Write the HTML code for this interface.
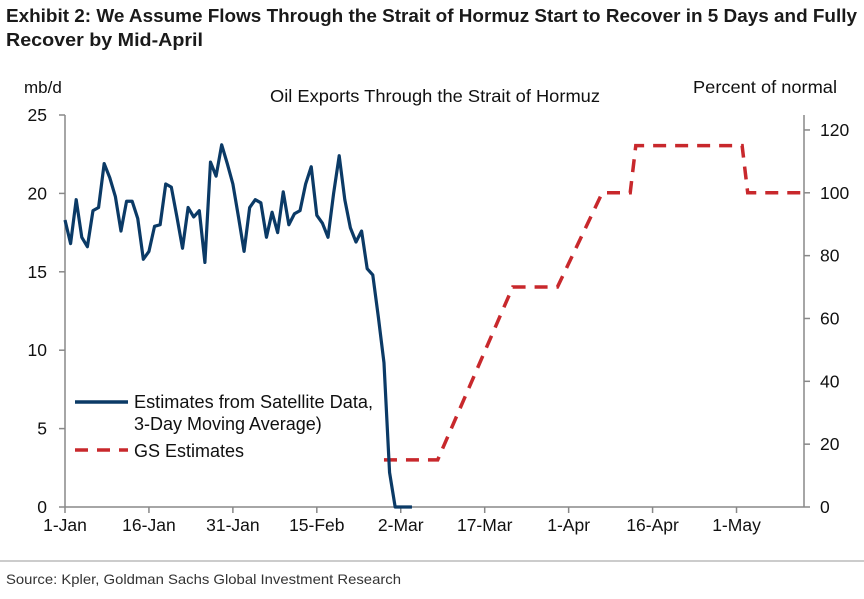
<!DOCTYPE html>
<html><head><meta charset="utf-8"><style>
body{margin:0;background:#fff;width:864px;height:594px;overflow:hidden;font-family:"Liberation Sans",sans-serif}
svg text{font-family:"Liberation Sans",sans-serif}
</style></head><body>
<svg width="864" height="594">
<text x="6" y="22" font-size="18" font-weight="bold" fill="#1a1a1a" textLength="851" lengthAdjust="spacingAndGlyphs">Exhibit 2: We Assume Flows Through the Strait of Hormuz Start to Recover in 5 Days and Fully</text>
<text x="6" y="46" font-size="18" font-weight="bold" fill="#1a1a1a" textLength="197" lengthAdjust="spacingAndGlyphs">Recover by Mid-April</text>
<text x="24" y="93" font-size="17" fill="#111">mb/d</text>
<text x="270" y="102" font-size="17.5" fill="#111" textLength="330" lengthAdjust="spacingAndGlyphs">Oil Exports Through the Strait of Hormuz</text>
<text x="693" y="93" font-size="17.5" fill="#111" textLength="144" lengthAdjust="spacingAndGlyphs">Percent of normal</text>
<g id="axes"></g>
<g id="series"></g>
<g>
<line x1="75" y1="402" x2="128" y2="402" stroke="#0b3a66" stroke-width="3.5"/>
<text x="134" y="408" font-size="18" fill="#111" textLength="239" lengthAdjust="spacingAndGlyphs">Estimates from Satellite Data,</text>
<text x="134" y="430" font-size="18" fill="#111">3-Day Moving Average)</text>
<line x1="75" y1="450" x2="128" y2="450" stroke="#c8282c" stroke-width="3.5" stroke-dasharray="13,9"/>
<text x="134" y="457" font-size="18" fill="#111">GS Estimates</text>
</g>
<line x1="0" y1="561" x2="864" y2="561" stroke="#999" stroke-width="1"/>
<text x="6" y="584" font-size="14" fill="#333" textLength="395" lengthAdjust="spacingAndGlyphs">Source: Kpler, Goldman Sachs Global Investment Research</text>
</svg>
<script>
const satValues=[18.3,16.8,19.6,17.2,16.6,18.9,19.1,21.9,21.0,19.8,17.6,19.5,19.5,18.4,15.8,16.3,17.9,18.0,20.6,20.4,18.5,16.5,19.1,18.5,18.9,15.6,22.0,21.1,23.1,21.9,20.6,18.5,16.3,19.1,19.6,19.4,17.2,18.8,17.5,20.1,18.0,18.7,18.9,20.6,21.7,18.6,18.1,17.2,20.0,22.4,19.6,17.8,16.9,17.6,15.2,14.8,12.1,9.2,2.2,0,0,0,0];
const gsDays=[57,66.6,80,88,96,101,102,121,122,132];
const gsValues=[15,15,70,70,100,100,115,115,100,100];
const xTickLabels=["1-Jan","16-Jan","31-Jan","15-Feb","2-Mar","17-Mar","1-Apr","16-Apr","1-May"];
const xTickDays=[0,15,30,45,60,75,90,105,120];
const leftTicks=[0,5,10,15,20,25];
const rightTicks=[0,20,40,60,80,100,120];
const NS="http://www.w3.org/2000/svg";
const X0=65,PXD=5.596,XR=804;
const x=d=>X0+d*PXD;
const yL=v=>507-v*15.68;
const yR=v=>507-v*3.142;
function el(t,a,p){const e=document.createElementNS(NS,t);for(const k in a)e.setAttribute(k,a[k]);p.appendChild(e);return e;}
const ax=document.getElementById('axes');
const xa=el('line',{x1:X0,y1:507,x2:XR,y2:507,stroke:'#888','stroke-width':1.5},ax);


const la=el('line',{x1:X0,y1:115,x2:X0,y2:507,stroke:'#888','stroke-width':1.5},ax);


const ra=el('line',{x1:XR,y1:115,x2:XR,y2:507,stroke:'#888','stroke-width':1.5},ax);


xTickDays.forEach((d,i)=>{
 el('line',{x1:x(d),y1:507,x2:x(d),y2:513,stroke:'#888','stroke-width':1.5},ax);
 const t=el('text',{x:x(d),y:531,'font-size':17.5,'text-anchor':'middle',fill:'#111'},ax);
 t.textContent=xTickLabels[i];
 
 
});
leftTicks.forEach(v=>{
 el('line',{x1:X0-6,y1:yL(v),x2:X0,y2:yL(v),stroke:'#888','stroke-width':1.5},ax);
 const t=el('text',{x:47,y:yL(v)+6,'font-size':17.5,'text-anchor':'end',fill:'#111'},ax);
 t.textContent=v;
 
 
});
rightTicks.forEach(v=>{
 el('line',{x1:XR,y1:yR(v),x2:XR+6,y2:yR(v),stroke:'#888','stroke-width':1.5},ax);
 const t=el('text',{x:820,y:yR(v)+6,'font-size':17.5,fill:'#111'},ax);
 t.textContent=v;
 
 
});
const sg=document.getElementById('series');
const gs=el('polyline',{points:gsDays.map((d,i)=>x(d)+','+yR(gsValues[i])).join(' '),fill:'none',stroke:'#c8282c','stroke-width':3.5,'stroke-dasharray':'13,9'},sg);


const sat=el('polyline',{points:satValues.map((v,i)=>x(i)+','+yL(v)).join(' '),fill:'none',stroke:'#0b3a66','stroke-width':3.2,'stroke-linejoin':'round'},sg);


</script>
</body></html>
